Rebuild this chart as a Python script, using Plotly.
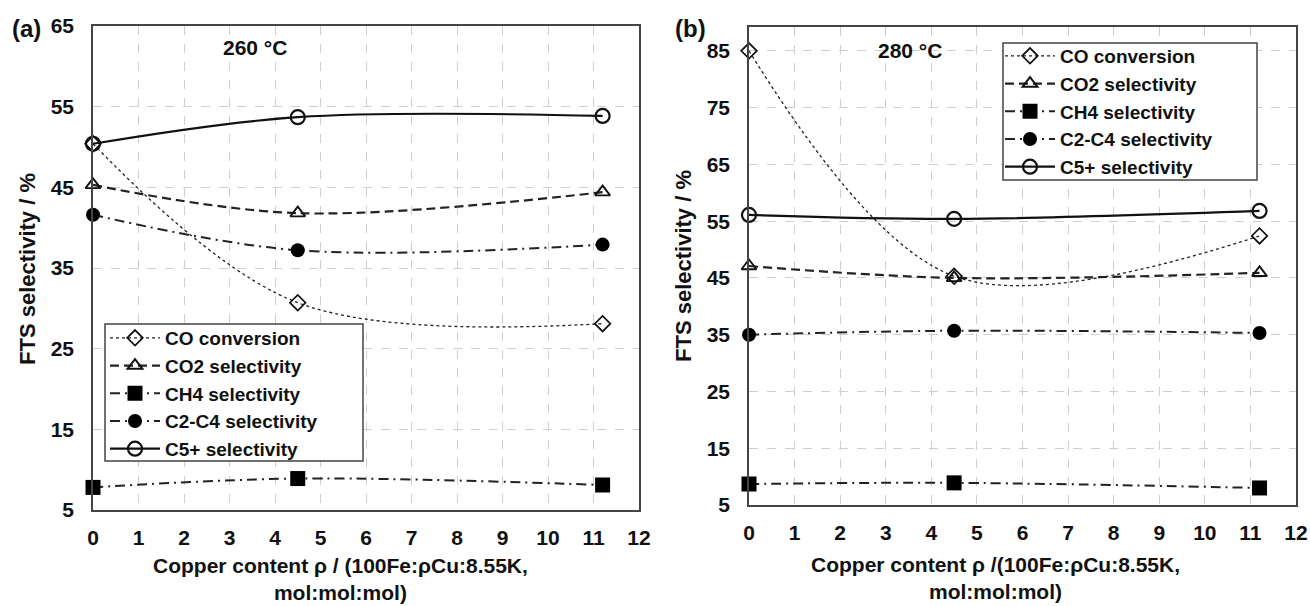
import plotly.graph_objects as go

# ---- data ----
copper = [0, 4.5, 11.2]
series_names = ["CO conversion", "CO2 selectivity", "CH4 selectivity", "C2-C4 selectivity", "C5+ selectivity"]

a_co = [50.4, 30.7, 28.1]
a_co2 = [45.3, 41.8, 44.4]
a_ch4 = [7.8, 8.9, 8.1]
a_c2c4 = [41.6, 37.2, 37.9]
a_c5 = [50.4, 53.7, 53.85]

b_co = [85.0, 45.3, 52.4]
b_co2 = [47.1, 45.0, 45.9]
b_ch4 = [8.7, 8.9, 8.0]
b_c2c4 = [35.0, 35.7, 35.3]
b_c5 = [56.1, 55.4, 56.8]

x_ticks = list(range(0, 13))
a_yticks = [5, 15, 25, 35, 45, 55, 65]
b_yticks = [5, 15, 25, 35, 45, 55, 65, 75, 85]

FONT = "Liberation Sans, Arial, sans-serif"
W, H = 1310, 606

styles = [
    dict(line=dict(color="#222", width=1.3, dash="dot"),
         marker=dict(symbol="diamond-open", size=12, color="#111", line=dict(width=1.7, color="#111"))),
    dict(line=dict(color="#222", width=2.2, dash="9px,5px"),
         marker=dict(symbol="triangle-up-open", size=13, color="#111", line=dict(width=1.9, color="#111"))),
    dict(line=dict(color="#222", width=2, dash="10px,5px,2px,5px"),
         marker=dict(symbol="square", size=15, color="#000", line=dict(width=0))),
    dict(line=dict(color="#222", width=2, dash="10px,5px,2px,5px"),
         marker=dict(symbol="circle", size=14, color="#000", line=dict(width=0))),
    dict(line=dict(color="#111", width=2.2),
         marker=dict(symbol="circle-open", size=14, color="#111", line=dict(width=2.2, color="#111"))),
]

fig = go.Figure()
for vals_set, xa, ya, lg in [
    ([a_co, a_co2, a_ch4, a_c2c4, a_c5], "x", "y", "legend"),
    ([b_co, b_co2, b_ch4, b_c2c4, b_c5], "x2", "y2", "legend2"),
]:
    for name, vals, st in zip(series_names, vals_set, styles):
        fig.add_trace(go.Scatter(
            x=copper, y=vals, name=name, mode="lines+markers",
            line=dict(shape="spline", smoothing=1.0, **st["line"]),
            marker=st["marker"], xaxis=xa, yaxis=ya, legend=lg, cliponaxis=False,
        ))

axis_common = dict(
    showline=True, mirror=True, linecolor="#444", linewidth=1.5,
    showgrid=True, gridcolor="#cfcfcf", griddash="dash", gridwidth=1,
    zeroline=False, ticks="", automargin=False,
    tickfont=dict(family=FONT, size=21, color="#111", weight="bold"),
)

legend_common = dict(
    xanchor="left", yanchor="top", borderwidth=0, bgcolor="rgba(0,0,0,0)",
    font=dict(family=FONT, size=19, color="#111", weight="bold"),
    itemwidth=50, tracegroupgap=0,
)

fig.update_layout(
    width=W, height=H,
    margin=dict(l=0, r=0, t=0, b=0, autoexpand=False),
    paper_bgcolor="white", plot_bgcolor="white",
    font=dict(family=FONT, color="#111"),
    xaxis=dict(domain=[93/W, 639/W], range=[0, 12], tickvals=x_ticks, anchor="y",
               ticklabelstandoff=8, **axis_common),
    yaxis=dict(domain=[1-510/H, 1-26/H], range=[5, 65], tickvals=a_yticks, anchor="x",
               ticklabelstandoff=13, **axis_common),
    xaxis2=dict(domain=[749/W, 1296/W], range=[0, 12], tickvals=x_ticks, anchor="y2",
                ticklabelstandoff=8, **axis_common),
    yaxis2=dict(domain=[1-505/H, 1-27/H], range=[5, 89.2], tickvals=b_yticks, anchor="x2",
                ticklabelstandoff=13, **axis_common),
    legend=dict(x=105/W, y=1-319/H, **legend_common),
    legend2=dict(x=1000/W, y=1-37/H, **legend_common),
    showlegend=True,
)

# legend frames (white boxes with border)
for x0, x1, y0, y1 in [(105, 363, 324, 461), (1003, 1257, 43, 180)]:
    fig.add_shape(type="rect", xref="paper", yref="paper", layer="above",
                  x0=x0/W, x1=x1/W, y0=1-y1/H, y1=1-y0/H,
                  fillcolor="white", line=dict(color="#444", width=1.5))

ann_font = dict(family=FONT, size=22, color="#111", weight="bold")
xt_font = dict(family=FONT, size=21, color="#111", weight="bold")
anns = [
    dict(text="(a)", x=26/W, y=1-29/H, font=dict(family=FONT, size=24, color="#111", weight="bold")),
    dict(text="(b)", x=690/W, y=1-28/H, font=dict(family=FONT, size=24, color="#111", weight="bold")),
    dict(text="260 °C", x=255/W, y=1-47/H, font=dict(family=FONT, size=21, color="#111", weight="bold")),
    dict(text="280 °C", x=910/W, y=1-50/H, font=dict(family=FONT, size=21, color="#111", weight="bold")),
    dict(text="FTS selectivity / %", x=27/W, y=1-269/H, textangle=-90, font=ann_font),
    dict(text="FTS selectivity / %", x=683/W, y=1-266/H, textangle=-90, font=ann_font),
    dict(text="Copper content ρ / (100Fe:ρCu:8.55K,<br>mol:mol:mol)", x=340/W, y=1-579/H, font=xt_font),
    dict(text="Copper content ρ /(100Fe:ρCu:8.55K,<br>mol:mol:mol)", x=995/W, y=1-578/H, font=xt_font),
]
for a in anns:
    fig.add_annotation(xref="paper", yref="paper", showarrow=False,
                       xanchor="center", yanchor="middle", **a)

fig.write_html("out.html")
